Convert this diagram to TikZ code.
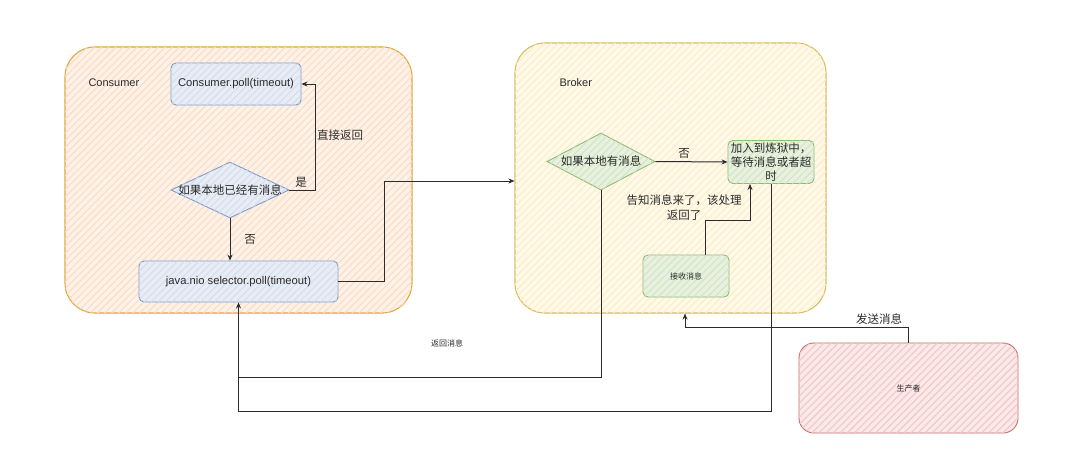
\documentclass[tikz,border=0pt]{standalone}
\usepackage{fontspec}
\setmainfont{Liberation Sans}
\newfontfamily\cjk{Noto Sans CJK SC}
\usetikzlibrary{arrows.meta,shapes.geometric,patterns.meta,calc}
\definecolor{consfill}{HTML}{FEF2E8}
\definecolor{conshatch}{HTML}{FADDC6}
\definecolor{consline}{HTML}{E2A83C}
\definecolor{brokfill}{HTML}{FFF9EA}
\definecolor{brokhatch}{HTML}{FCEDC8}
\definecolor{brokline}{HTML}{D9BE5E}
\definecolor{bluefill}{HTML}{E8EDF5}
\definecolor{bluehatch}{HTML}{D5DEEE}
\definecolor{blueline}{HTML}{7C9AC8}
\definecolor{greenfill}{HTML}{E8F1DF}
\definecolor{greenhatch}{HTML}{D2E5C4}
\definecolor{greenline}{HTML}{8DBA72}
\definecolor{redfill}{HTML}{FBE8E8}
\definecolor{redhatch}{HTML}{F3C6C6}
\definecolor{redline}{HTML}{C46A66}
\definecolor{ink}{HTML}{2B2B2B}
\tikzset{
  hatched/.style={postaction={pattern={Lines[angle=45,distance=5pt,line width=1.1pt]},pattern color=#1}},
  container/.style={draw=consline,line width=1.1pt,rounded corners=30pt,inner sep=0pt},
  boxnode/.style={rounded corners=5pt,inner sep=0pt,line width=0.9pt,text=ink},
  decision/.style={diamond,inner sep=0pt,line width=0.9pt},
  conn/.style={draw=ink,line width=1pt},
  arr/.style={conn,-{Stealth[length=6pt,width=5pt]}},
  lbl/.style={text=ink,font=\fontsize{11.5}{15}\selectfont\cjk},
  small/.style={text=ink,font=\fontsize{8}{9}\selectfont\cjk},
}
\begin{document}
\begin{tikzpicture}[x=1pt,y=-1pt]
\useasboundingbox (0,0) rectangle (1084,460);
\fill[white] (0,0) rectangle (1084,460);

% containers
\node[container,draw=consline,fill=consfill,hatched=conshatch,minimum width=347pt,minimum height=266pt] (consumer) at (238.5,180) {};
\node[container,draw=brokline,fill=brokfill,hatched=brokhatch,minimum width=311pt,minimum height=270pt] (broker) at (670.5,178) {};
\node[text=ink,font=\fontsize{11}{13}\selectfont,anchor=west] (consumerlbl) at (85,83) {Consumer};
\node[text=ink,font=\fontsize{11}{13}\selectfont,anchor=west] (brokerlbl) at (556,83) {Broker};

% consumer side
\node[boxnode,draw=blueline,fill=bluefill,hatched=bluehatch,minimum width=130pt,minimum height=42pt,font=\fontsize{11.2}{13}\selectfont] (poll) at (236,84) {Consumer.poll(timeout)};
\node[decision,draw=blueline,fill=bluefill,hatched=bluehatch,minimum width=118pt,minimum height=56pt,
  label={[lbl]center:如果本地已经有消息}] (d1) at (230,190) {};
\node[boxnode,draw=blueline,fill=bluefill,hatched=bluehatch,minimum width=199pt,minimum height=41pt,font=\fontsize{11.2}{13}\selectfont] (jnio) at (238.5,281.5) {java.nio selector.poll(timeout)};

% broker side
\node[decision,draw=greenline,fill=greenfill,hatched=greenhatch,minimum width=108pt,minimum height=57pt,
  label={[lbl]center:如果本地有消息}] (d2) at (601,161.5) {};
\node[boxnode,draw=greenline,fill=greenfill,hatched=greenhatch,minimum width=86pt,minimum height=43pt,
  align=center,font=\fontsize{11.5}{14}\selectfont\cjk] (purg) at (771,162) {加入到炼狱中，\\等待消息或者超\\时};
\node[boxnode,draw=greenline,fill=greenfill,hatched=greenhatch,minimum width=86pt,minimum height=42pt,
  font=\fontsize{8}{9}\selectfont\cjk] (recv) at (686,276) {接收消息};

% producer
\node[boxnode,rounded corners=15pt,draw=redline,fill=redfill,hatched=redhatch,minimum width=219pt,minimum height=90pt,
  font=\fontsize{8}{9}\selectfont\cjk] (prod) at (908.5,388) {生产者};

% connectors
\draw[arr] (d1.east) -- ++(26,0) |- (poll.east);
\node[lbl] (yes1) at (301,182) {是};
\node[lbl] (direct) at (340,135) {直接返回};

\draw[arr] (d1.south) -- (d1.south |- jnio.north);
\node[lbl] (no1) at (250,239) {否};

\draw[arr] (jnio.east) -- ++(46,0) |- ($(broker.west)+(0,3)$);

\draw[arr] (d2.east) -- (purg.west);
\node[lbl] (no2) at (684,153) {否};

\draw[arr] ($(recv.north)+(19,0)$) -- ++(0,-34) -| ($(purg.south)+(-21,0)$);
\node[lbl,align=center] (notify) at (684,208) {告知消息来了，该处理\\返回了};

\coordinate (retcorner) at ($(jnio.south)+(0,75)$);
\draw[conn] (d2.south) |- (retcorner);
\node[small] (retlbl) at (447,343) {返回消息};
\draw[conn] (purg.south) -- ++(0,228) -| (retcorner);
\draw[arr] (retcorner) -- (jnio.south);

\draw[arr] (prod.north) -- ++(0,-15) -| ($(broker.south)+(14.5,0)$);
\node[lbl] (send) at (879,319) {发送消息};
\end{tikzpicture}
\end{document}
